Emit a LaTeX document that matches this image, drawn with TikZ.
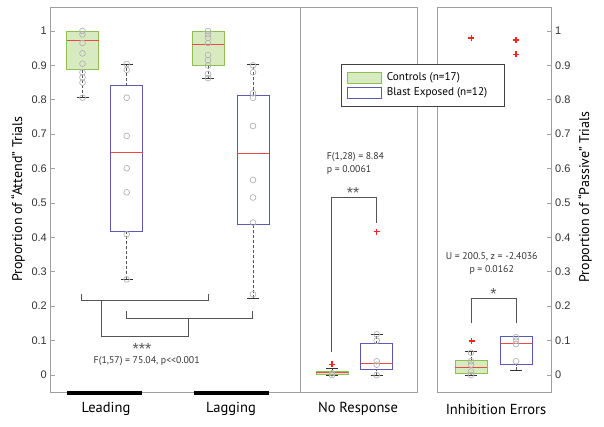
\documentclass[tikz,border=0pt]{standalone}
\usepackage{fontspec}
\setmainfont{PT Sans}
\newfontfamily\tickfont{Liberation Sans}
\definecolor{axgray}{HTML}{A0A0A0}
\definecolor{brgray}{HTML}{555555}
\definecolor{ctrlfill}{HTML}{D8EBC0}
\definecolor{ctrldraw}{HTML}{8CC152}
\definecolor{blastdraw}{HTML}{5A5AB4}
\definecolor{medred}{HTML}{F04848}
\definecolor{ptgray}{HTML}{B4B4B4}
\definecolor{plusred}{HTML}{FF2020}
\tikzset{
  axisframe/.style={draw=axgray, line width=0.9pt},
  ctrlbox/.style={fill=ctrlfill, draw=ctrldraw, line width=0.9pt},
  blastbox/.style={fill=white, draw=blastdraw, line width=0.9pt},
  whisk/.style={draw=brgray, line width=0.8pt, dash pattern=on 3pt off 2pt},
  capline/.style={draw=black!80, line width=0.8pt},
  medline/.style={draw=medred, line width=0.9pt},
  datapt/.style={draw=ptgray, line width=0.7pt},
  plusmark/.style={draw=plusred, line width=1.3pt},
  bracket/.style={draw=brgray, line width=0.9pt},
  ticklab/.style={font=\tickfont\fontsize{11}{11}\selectfont, text=black!80, inner sep=0pt},
  annot/.style={font=\fontsize{9.8}{11}\selectfont, text=black!80, inner sep=0pt},
  catlab/.style={font=\fontsize{14.5}{15}\selectfont, inner sep=0pt},
  ylab/.style={font=\fontsize{14}{15}\selectfont, inner sep=0pt, rotate=90},
  star/.style={font=\tickfont\fontsize{16}{16}\selectfont, text=brgray, inner sep=0pt}
}
% #1 x, #2 low cap, #3 q1, #4 median, #5 q3, #6 high cap, #7 box style
\newcommand{\bxplot}[7]{%
  \draw[whisk] (#1,#2) -- (#1,#3);
  \draw[whisk] (#1,#5) -- (#1,#6);
  \draw[capline] (#1-6,#2) -- (#1+6,#2);
  \draw[capline] (#1-6,#6) -- (#1+6,#6);
  \path[#7] (#1-16,#3) rectangle (#1+16,#5);
  \draw[medline] (#1-16,#4) -- (#1+16,#4);
}
\newcommand{\pts}[2]{\foreach \v in {#2} {\draw[datapt] (#1,\v) circle (2.9pt);}}
% red plus outlier marker
\newcommand{\outpt}[3]{%
  \coordinate (#1) at (#2,#3);
  \draw[plusmark] ([xshift=-3pt]#1) -- ([xshift=3pt]#1);
  \draw[plusmark] ([yshift=-3pt]#1) -- ([yshift=3pt]#1);
}
\begin{document}
\begin{tikzpicture}[x=1pt,y=1pt]
\useasboundingbox (0,0) rectangle (604,426);
% frames
\draw[axisframe] (50.7,33.3) rectangle (300,418.5);
\draw[axisframe] (300,33.3) rectangle (417,418.5);
\draw[axisframe] (437.5,33.3) rectangle (551,418.5);
\begin{scope}[yshift=51pt, y=344pt]
  % ticks
  \foreach \t/\l in {0/0,0.1/0.1,0.2/0.2,0.3/0.3,0.4/0.4,0.5/0.5,0.6/0.6,0.7/0.7,0.8/0.8,0.9/0.9,1/1} {
    \draw[axgray, line width=0.8pt] (50.7,\t) -- (54.7,\t);
    \node[ticklab, anchor=east] (lt\l) at (47,\t) {\l};
    \draw[axgray, line width=0.8pt] (551,\t) -- (547,\t);
    \node[ticklab, anchor=west] (rt\l) at (555,\t) {\l};
  }
  % boxes
  \bxplot{82.5}{0.806}{0.887}{0.973}{1.0}{1.0}{ctrlbox}
  \pts{82.5}{1.0,0.99,0.965,0.935,0.905,0.88,0.865,0.85,0.806}
  \bxplot{126.7}{0.278}{0.417}{0.648}{0.841}{0.904}{blastbox}
  \pts{126.7}{0.904,0.887,0.806,0.695,0.601,0.531,0.409,0.278}
  \bxplot{208}{0.861}{0.9}{0.96}{1.0}{1.0}{ctrlbox}
  \pts{208}{1.0,0.99,0.98,0.965,0.93,0.915,0.9,0.875,0.863}
  \bxplot{253}{0.223}{0.438}{0.644}{0.813}{0.904}{blastbox}
  \pts{253}{0.9,0.88,0.819,0.806,0.724,0.567,0.516,0.443,0.235}
  % no response
  \bxplot{332}{0.0}{0.002}{0.007}{0.011}{0.019}{ctrlbox}
  \pts{332}{0.0,0.005}
  \outpt{onc}{332}{0.031}
  \bxplot{376.7}{0.0}{0.015}{0.034}{0.091}{0.118}{blastbox}
  \pts{376.7}{0.118,0.1,0.04,0.03,0.0}
  \outpt{onb}{376.7}{0.417}
  % inhibition errors
  \bxplot{471}{0.0}{0.004}{0.021}{0.043}{0.07}{ctrlbox}
  \pts{471}{0.0,0.01,0.03,0.04,0.065}
  \outpt{oica}{471.6}{0.099}
  \outpt{oicb}{471.3}{0.98}
  \bxplot{516}{0.0145}{0.03}{0.092}{0.111}{0.111}{blastbox}
  \pts{516}{0.11,0.1,0.09,0.04}
  \outpt{oiba}{516}{0.974}
  \outpt{oibb}{516}{0.932}
\end{scope}
% bottom bars
\draw[black, line width=4pt] (67,33.3) -- (142,33.3);
\draw[black, line width=4pt] (194,33.3) -- (269,33.3);
% brackets left
\draw[bracket] (81.7,131.7) -- (81.7,126) -- (208.3,126) -- (208.3,131.7);
\draw[bracket] (126.7,115) -- (126.7,107.7) -- (252.7,107.7) -- (252.7,115);
\draw[bracket] (101,126) -- (101,90) -- (188.3,90) -- (188.3,107.7);
\node[star] (s3) at (142,77) {***};
\node[annot] (f1) at (146.7,65) {F(1,57) = 75.04, p{<}{<}0.001};
% bracket middle
\draw[bracket] (331,74.3) -- (331,228.7) -- (376.7,228.7) -- (376.7,202.7);
\node[star] (s2) at (353,233) {**};
\node[annot, anchor=west] (f2) at (326.7,269.3) {F(1,28) = 8.84};
\node[annot, anchor=west] (p2) at (326.7,256) {p = 0.0061};
% bracket right
\draw[bracket] (471,102.7) -- (471,127.7) -- (516,127.7) -- (516,102.7);
\node[star] (s1) at (493.5,132) {*};
\node[annot] (u3) at (491.7,169.3) {U = 200.5, z = -2.4036};
\node[annot] (p3) at (491.7,156) {p = 0.0162};
% legend
\draw[fill=white, draw=black!75, line width=0.9pt] (341.7,361.7) rectangle (504.3,319.3);
\path[ctrlbox] (347.3,353.7) rectangle (381,342.7);
\path[blastbox] (347.3,338.3) rectangle (381,327.7);
\node[font=\fontsize{11.2}{12}\selectfont, anchor=west, inner sep=0pt] (lg1) at (386.7,348.2) {Controls (n=17)};
\node[font=\fontsize{11.2}{12}\selectfont, anchor=west, inner sep=0pt] (lg2) at (386.7,333) {Blast Exposed (n=12)};
% category labels
\node[catlab] (cl1) at (106,17) {Leading};
\node[catlab] (cl2) at (231,17) {Lagging};
\node[catlab] (cl3) at (358,17) {No Response};
\node[catlab] (cl4) at (496,17) {Inhibition Errors};
% y labels
\node[ylab] (yl) at (18,227) {Proportion of “Attend” Trials};
\node[ylab] (yr) at (585,229) {Proportion of “Passive” Trials};
\end{tikzpicture}
\end{document}
